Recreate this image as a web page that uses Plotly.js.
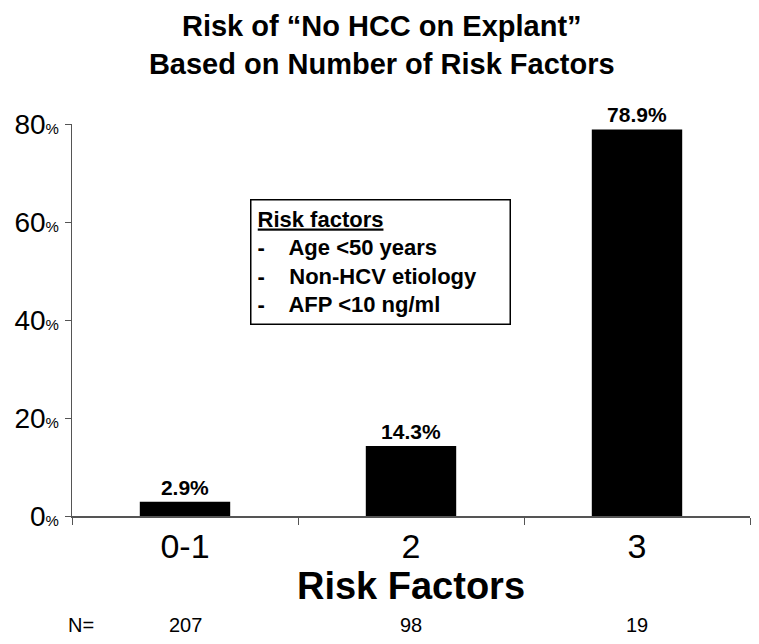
<!DOCTYPE html>
<html><head><meta charset="utf-8">
<script src="https://cdn.plot.ly/plotly-3.0.1.min.js"></script>
<style>html,body{margin:0;padding:0;background:#fff;}#chart{width:759px;height:644px;}</style>
</head><body><div id="chart"></div>
<script>
const categories = ["0-1", "2", "3"];
const riskValues = [2.9, 14.3, 78.9];
const barLabels = ["2.9%", "14.3%", "78.9%"];
const nValues = ["207", "98", "19"];
const yTickVals = [0, 20, 40, 60, 80];
const yTickNums = ["0", "20", "40", "60", "80"];
const legendLines = ["<u>Risk factors</u>", "-    Age &lt;50 years", "-    Non-HCV etiology", "-    AFP &lt;10 ng/ml"];

const narrow = '"Liberation Sans Narrow", "Arial Narrow", "Liberation Sans", Arial, sans-serif';
const sans = '"Liberation Sans", Arial, sans-serif';

// plot area in pixels: left 72, right 750, top 124, bottom 516
const plotH = 392, plotW = 678;
const pyToPaper = py => (516 - py) / plotH;
const pxToPaper = px => (px - 72) / plotW;

const trace = {
  type: 'bar', x: categories, y: riskValues,
  text: barLabels, textposition: 'outside', cliponaxis: false,
  textfont: {family: sans, size: 21, color: '#000', weight: 'bold'},
  marker: {color: '#000', line: {width: 0}},
  width: 0.4, hoverinfo: 'none'
};

const annotations = nValues.map((v, i) => ({
  x: i, xref: 'x', y: pyToPaper(625), yref: 'paper', yanchor: 'middle', xanchor: 'center',
  text: v, showarrow: false, font: {family: narrow, size: 20, color: '#000'}
}));
annotations.push({
  x: pxToPaper(81), xref: 'paper', y: pyToPaper(625), yref: 'paper', showarrow: false,
  text: 'N=', font: {family: narrow, size: 20, color: '#000'}, xanchor: 'center', yanchor: 'middle'
});
annotations.push({
  x: pxToPaper(250), xref: 'paper', y: pyToPaper(262), yref: 'paper',
  xanchor: 'left', yanchor: 'middle', align: 'left', showarrow: false,
  text: legendLines.join('<br>'), width: 246,
  font: {family: sans, size: 22, color: '#000', weight: 'bold'},
  bordercolor: '#000', borderwidth: 1.5, borderpad: 6, bgcolor: '#fff'
});

const layout = {
  width: 759, height: 644,
  margin: {l: 72, r: 9, t: 124, b: 128},
  paper_bgcolor: '#fff', plot_bgcolor: '#fff',
  title: {
    text: '<b>Risk of “No HCC on Explant”<br>Based on Number of Risk Factors</b>',
    font: {family: sans, size: 29, color: '#000'},
    x: 0.503, xanchor: 'center', xref: 'container', y: 1 - 36 / 644, yanchor: 'top'
  },
  xaxis: {
    type: 'category', range: [-0.5, 2.5], tickson: 'boundaries', ticks: 'outside', ticklen: 7, tickcolor: '#555',
    showline: true, linecolor: '#555', linewidth: 1.5, showgrid: false, zeroline: false,
    tickfont: {family: narrow, size: 34, color: '#000'},
    title: {text: '<b>Risk Factors</b>', font: {family: narrow, size: 38, color: '#000'}, standoff: 0},
    fixedrange: true
  },
  yaxis: {
    range: [0, 80], tickvals: yTickVals,
    ticktext: yTickNums.map(t => t + "<span style='font-size:15px'>%</span>"),
    ticks: 'outside', ticklen: 6, tickcolor: '#555',
    showline: true, linecolor: '#555', linewidth: 1.5, showgrid: false, zeroline: false,
    tickfont: {family: sans, size: 28, color: '#000'}, fixedrange: true
  },
  annotations: annotations,
  showlegend: false, bargap: 0.6
};

Plotly.newPlot('chart', [trace], layout, {displayModeBar: false, staticPlot: true});
</script></body></html>
